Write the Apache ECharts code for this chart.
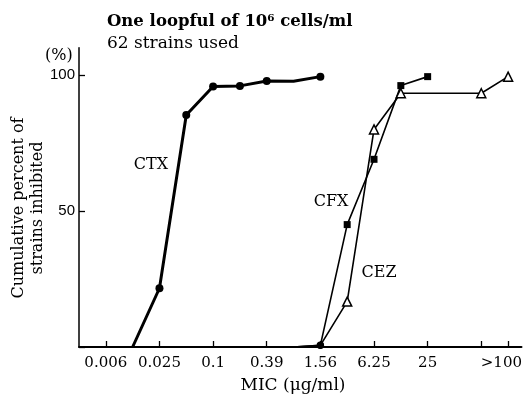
<!DOCTYPE html>
<html>
<head>
<meta charset="utf-8">
<script src="https://cdn.jsdelivr.net/npm/echarts@6/dist/echarts.min.js"></script>
<style>html,body{margin:0;padding:0;background:#fff}#c{width:525px;height:397px}</style>
</head>
<body>
<div id="c"></div>
<script>
// Two-fold dilution steps; position 0 is the y-axis origin
const categories = ["", "0.006", "0.0125", "0.025", "0.05", "0.1", "0.2", "0.39", "0.78", "1.56", "3.12", "6.25", "12.5", "25", "50", "100", ">100"];
const tickedMIC = ["0.006", "0.025", "0.1", "0.39", "1.56", "6.25", "25", "100", ">100"];
const labeledMIC = ["0.006", "0.025", "0.1", "0.39", "1.56", "6.25", "25"];
const lastLabel = ">100";
const yTicks = [0, 50, 100];
const yLabels = [50, 100];

const ctxMIC = ["0.0125", "0.025", "0.05", "0.1", "0.2", "0.39", "0.78", "1.56"];
const ctxPct = [0, 21.6, 85.3, 95.8, 96.0, 97.8, 97.7, 99.4];

const cfxMIC = ["0.78", "1.56", "3.12", "6.25", "12.5", "25"];
const cfxPct = [0, 0.6, 45.0, 69.0, 96.1, 99.4];

const cezMIC = ["0.78", "1.56", "3.12", "6.25", "12.5", "100", ">100"];
const cezPct = [0, 0.6, 16.7, 80.0, 93.3, 93.3, 99.4];

const serifFont = '"DejaVu Serif", "Liberation Serif", serif';
const pos = m => categories.indexOf(m);

function build(mics, pcts, sym) {
  return mics.map((m, i) => {
    const item = { value: [pos(m), pcts[i]] };
    if (m === "0.78" || m === "0.0125") item.symbol = 'none';
    if (m === "1.56" && sym !== 'circle') { item.symbol = 'circle'; item.symbolSize = 6; item.itemStyle = {color: '#000', borderColor: '#000'}; }
    return item;
  });
}

const lastLabelPos = pos("100") + 0.75;
const step = 26.85;
const xMax = 16.5;

const chart = echarts.init(document.getElementById('c'), null, {renderer: 'canvas'});
chart.setOption({
  backgroundColor: '#fff',
  animation: false,
  grid: { left: 79, top: 47.8, width: step * xMax, bottom: 50, containLabel: false },
  xAxis: {
    type: 'value',
    min: 0, max: xMax,
    axisLine: { show: true, onZero: false, lineStyle: { color: '#000', width: 2 } },
    axisTick: {
      show: true, inside: true, length: 6, lineStyle: { color: '#000', width: 1.3 },
      customValues: tickedMIC.map(pos)
    },
    axisLabel: {
      show: true,
      customValues: labeledMIC.map(pos).concat([lastLabelPos]),
      margin: 9,
      color: '#000',
      fontFamily: serifFont,
      fontSize: 15,
      formatter: v => (v === lastLabelPos ? lastLabel : (categories[Math.round(v)] || ''))
    },
    splitLine: { show: false }
  },
  yAxis: {
    type: 'value',
    min: 0, max: 110,
    axisLine: { show: true, lineStyle: { color: '#000', width: 1.5 } },
    axisTick: { show: true, inside: true, length: 6, lineStyle: { color: '#000', width: 1.3 }, customValues: yTicks },
    axisLabel: {
      show: true,
      customValues: yLabels,
      margin: 4, color: '#000', fontSize: 15,
      fontFamily: '"Liberation Sans", Arial, sans-serif',
      formatter: v => String(v)
    },
    splitLine: { show: false }
  },
  series: [
    {
      name: 'CTX', type: 'line',
      data: build(ctxMIC, ctxPct, 'circle'),
      symbol: 'circle', symbolSize: 8,
      lineStyle: { color: '#000', width: 3 },
      itemStyle: { color: '#000' },
      z: 3
    },
    {
      name: 'CFX', type: 'line',
      data: build(cfxMIC, cfxPct, 'rect'),
      symbol: 'rect', symbolSize: 7,
      lineStyle: { color: '#000', width: 1.6 },
      itemStyle: { color: '#000' },
      z: 3
    },
    {
      name: 'CEZ', type: 'line',
      data: build(cezMIC, cezPct, 'triangle'),
      symbol: 'triangle', symbolSize: 9,
      lineStyle: { color: '#000', width: 1.6 },
      itemStyle: { color: '#fff', borderColor: '#000', borderWidth: 1.5 },
      z: 4
    }
  ],
  graphic: [
    { type: 'text', left: 107, top: 13, style: { text: 'One loopful of 10\u2076 cells/ml', font: 'bold 16.5px ' + serifFont, fill: '#000' } },
    { type: 'text', left: 107, top: 35, style: { text: '62 strains used', font: '17px ' + serifFont, fill: '#000' } },
    { type: 'text', left: 45, top: 48, style: { text: '(%)', font: '16px ' + serifFont, fill: '#000' } },
    { type: 'text', x: 19, y: 208, rotation: Math.PI / 2, style: { text: 'Cumulative percent of', font: '16px ' + serifFont, fill: '#000', align: 'center', verticalAlign: 'middle' } },
    { type: 'text', x: 38, y: 208, rotation: Math.PI / 2, style: { text: 'strains inhibited', font: '16px ' + serifFont, fill: '#000', align: 'center', verticalAlign: 'middle' } },
    { type: 'text', x: 293, y: 386, style: { text: 'MIC (\u03bcg/ml)', font: '17px ' + serifFont, fill: '#000', align: 'center', verticalAlign: 'middle' } },
    { type: 'text', x: 151, y: 165, style: { text: 'CTX', font: '16px ' + serifFont, fill: '#000', align: 'center', verticalAlign: 'middle' } },
    { type: 'text', x: 331, y: 202, style: { text: 'CFX', font: '16px ' + serifFont, fill: '#000', align: 'center', verticalAlign: 'middle' } },
    { type: 'text', x: 379, y: 273, style: { text: 'CEZ', font: '16px ' + serifFont, fill: '#000', align: 'center', verticalAlign: 'middle' } }
  ]
});
</script>
</body>
</html>
